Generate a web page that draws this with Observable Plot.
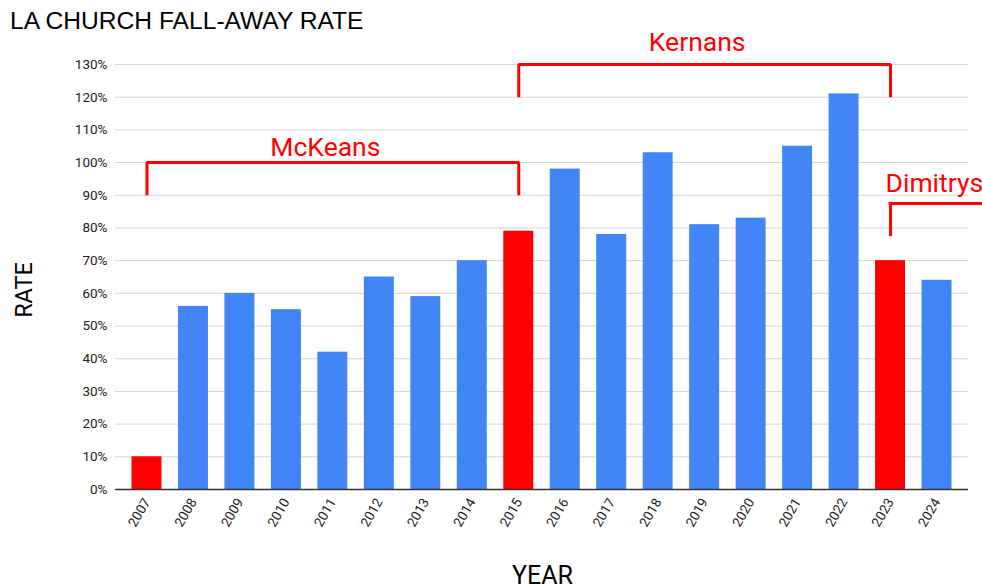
<!DOCTYPE html>
<html><head><meta charset="utf-8">
<script src="https://cdn.jsdelivr.net/npm/d3@7"></script>
<script src="https://cdn.jsdelivr.net/npm/@observablehq/plot@0.6"></script>
<style>
body{margin:0;background:#fff;font-family:Roboto,"Liberation Sans",Arial,sans-serif;}
#wrap{position:relative;width:982px;height:586px;overflow:hidden;background:#fff;}
#title{position:absolute;left:10px;top:7.5px;font-family:"Liberation Sans",Arial,sans-serif;font-size:24.6px;line-height:26px;color:#000;white-space:nowrap;}
#ylab{position:absolute;left:23.5px;top:290px;transform:translate(-50%,-50%) rotate(-90deg);font-size:23.5px;line-height:24px;color:#000;}
#xlab{position:absolute;left:542.5px;top:576px;transform:translate(-50%,-50%);font-size:25px;line-height:26px;color:#000;}
#chart{position:absolute;left:0;top:0;}
</style></head>
<body>
<div id="wrap">
<div id="chart"></div>
<div id="title">LA CHURCH FALL-AWAY RATE</div>
<div id="ylab">RATE</div>
<div id="xlab">YEAR</div>
</div>
<script>
const years = [2007,2008,2009,2010,2011,2012,2013,2014,2015,2016,2017,2018,2019,2020,2021,2022,2023,2024];
const rates = [10,56,60,55,42,65,59,70,79,98,78,103,81,83,105,121,70,64];
const highlightYears = [2007,2015,2023];
const yTicks = [0,10,20,30,40,50,60,70,80,90,100,110,120,130];

// Annotation brackets (era of leadership)
const eraNames = ["McKeans","Kernans","Dimitrys"];
const eraStart = [2007,2015,2023];
const eraEnd = [2015,2023,null];
const eraTop = [100,130,87.5];
const eraFoot = [90,120,77.5];
const eraLabelYear = [2011,2019,2023];
const eraLabelY = [104.7,136.6,93.5];

const data = years.map((y,i)=>({year:String(y), rate:rates[i], hl:highlightYears.includes(y)}));

const bracketPts = [];
eraNames.forEach((n,i)=>{
  bracketPts.push({name:n, x:String(eraStart[i]), y:eraFoot[i]});
  bracketPts.push({name:n, x:String(eraStart[i]), y:eraTop[i]});
  if (eraEnd[i] != null) {
    bracketPts.push({name:n, x:String(eraEnd[i]), y:eraTop[i]});
    bracketPts.push({name:n, x:String(eraEnd[i]), y:eraFoot[i]});
  }
});
const openEras = eraNames.map((n,i)=>({name:n, x:String(eraStart[i]), y:eraTop[i], open:eraEnd[i]==null})).filter(d=>d.open);
const eraLabels = eraNames.map((n,i)=>({name:n, x:String(eraLabelYear[i]), y:eraLabelY[i], open:eraEnd[i]==null}));

const RED = "#ff0000", BLUE = "#4285f4";
const FONT = 'Roboto, "Liberation Sans", Arial, sans-serif';

const chart = Plot.plot({
  width: 982, height: 586,
  marginLeft: 115, marginRight: 14, marginTop: 64, marginBottom: 97,
  style: {fontFamily: FONT, fontSize: "13.5px", color: "#222", background: "transparent"},
  x: {type: "band", domain: years.map(String), padding: 0.355, round: false, label: null, tickSize: 0, tickRotate: -60, tickPadding: 10},
  y: {domain: [0,130], ticks: yTicks, tickFormat: d => d + "%", label: null, tickSize: 0, tickPadding: 8},
  marks: [
    Plot.ruleY(yTicks, {stroke: "#d6d6d6", strokeWidth: 1}),
    Plot.barY(data.filter(d=>!d.hl), {x: "year", y: "rate", fill: BLUE}),
    Plot.barY(data.filter(d=>d.hl), {x: "year", y: "rate", fill: RED}),
    Plot.ruleY([0], {stroke: "#333", strokeWidth: 1.5}),
    Plot.line(bracketPts, {x: "x", y: "y", z: "name", stroke: RED, strokeWidth: 3, strokeLinejoin: "miter", strokeLinecap: "butt"}),
    Plot.tickY(openEras, {x: "x", y: "y", stroke: RED, strokeWidth: 3, insetLeft: 13.5, insetRight: -77}),
    Plot.text(eraLabels.filter(d=>!d.open), {x: "x", y: "y", text: "name", fill: RED, fontSize: 26.5, dx: -7.5}),
    Plot.text(eraLabels.filter(d=>d.open), {x: "x", y: "y", text: "name", fill: RED, fontSize: 26.5, textAnchor: "start", dx: -5})
  ]
});
document.getElementById("chart").appendChild(chart);
</script>
</body></html>
